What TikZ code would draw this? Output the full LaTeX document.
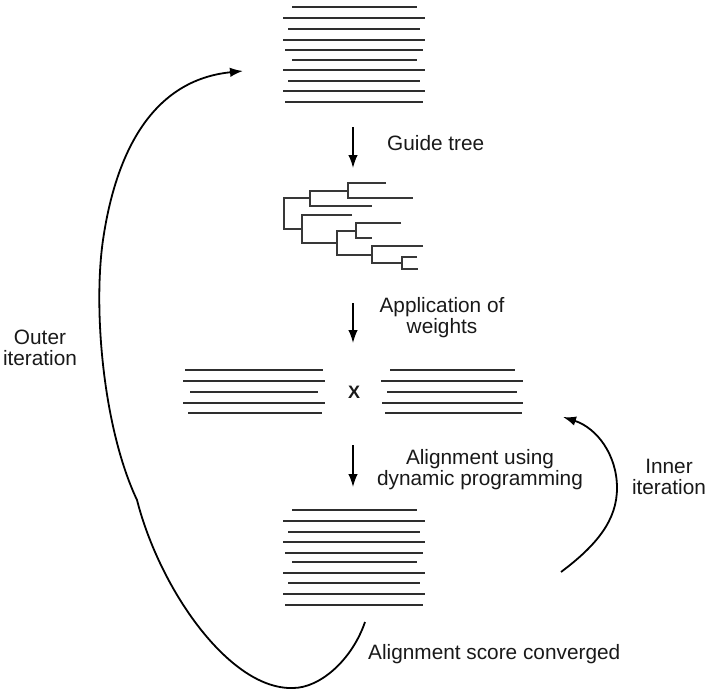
\documentclass[tikz,border=0pt]{standalone}
\usepackage{fontspec}
\setmainfont{Liberation Sans}
\usetikzlibrary{arrows.meta}
\begin{document}
\begin{tikzpicture}[x=1pt,y=-1pt,
  seq/.style={line width=2.1pt, black!82},
  treeline/.style={line width=1.7pt, black!78},
  flow/.style={line width=1.5pt, -{Latex[length=13pt,width=9.5pt]}},
  loopline/.style={line width=1.8pt, -{Latex[length=13pt,width=9.5pt]}},
  lbl/.style={font=\fontsize{20.8}{21}\selectfont, align=center, inner sep=0pt, text=black!90}]
\useasboundingbox (0,0) rectangle (706,690);

% top alignment
\foreach \y/\a/\b in {7/292/417, 18/283/425, 29/288/420, 40/283/425, 50/285/423, 60/292/417, 70/283/425, 81/288/420, 91/283/425, 102/285/423}
  \draw[seq] (\a,\y) -- (\b,\y);
% bottom alignment
\foreach \y/\a/\b in {510/292/417, 521/283/425, 532/288/420, 542/283/425, 553/285/423, 562/292/417, 573/283/425, 583/288/420, 594/283/425, 605/285/423}
  \draw[seq] (\a,\y) -- (\b,\y);
% middle left group
\foreach \y/\a/\b in {370/185/323, 381/183/325, 392/190/318, 403/183/325, 413/188/322}
  \draw[seq] (\a,\y) -- (\b,\y);
% middle right group
\foreach \y/\a/\b in {370/390/515, 381/381/523, 392/387/517, 403/382/523, 413/385/522}
  \draw[seq] (\a,\y) -- (\b,\y);

% guide tree
\draw[treeline] (310,198) -- (284,198) -- (284,229) -- (302,229);
\draw[treeline] (348,191) -- (310,191) -- (310,206) -- (372,206);
\draw[treeline] (386,183) -- (348,183) -- (348,198) -- (413,198);
\draw[treeline] (352,215) -- (302,215) -- (302,243) -- (337,243);
\draw[treeline] (356,231) -- (337,231) -- (337,255) -- (372,255);
\draw[treeline] (401,223) -- (356,223) -- (356,238) -- (372,238);
\draw[treeline] (423,246) -- (372,246) -- (372,263) -- (402,263);
\draw[treeline] (417,257) -- (402,257) -- (402,269) -- (418,269);

% vertical flow arrows
\coordinate (a1s) at (353,127); \coordinate (a1e) at (353,168);
\coordinate (a2s) at (353,303); \coordinate (a2e) at (353,343);
\coordinate (a3s) at (353,445); \coordinate (a3e) at (353,487);
\draw[flow] (a1s) -- (a1e);
\draw[flow] (a2s) -- (a2e);
\draw[flow] (a3s) -- (a3e);

% labels
\node[lbl, anchor=west] (guide) at (387,143) {Guide tree};
\node[lbl] (weights) at (442,318) {Application of\\weights};
\node[lbl] (dp) at (480,470) {Alignment using\\dynamic programming};
\node[lbl] (inner) at (669,477) {Inner\\iteration};
\node[lbl] (outer) at (40,348) {Outer\\iteration};
\node[lbl, anchor=west] (conv) at (368,654) {Alignment score converged};
\node[inner sep=0pt, font=\fontsize{18}{18}\selectfont\bfseries, text=black!90] (cross) at (354,392) {X};

% inner iteration loop
\coordinate (i0) at (561,572);
\coordinate (i1) at (617,488);
\coordinate (i2) at (563,417);
\draw[loopline] (i0) .. controls (597,545) and (617,520) .. (i1)
  .. controls (617,455) and (597,428) .. (i2);

% outer iteration loop
\coordinate (o0) at (365,622);
\coordinate (o1) at (293,688);
\coordinate (o2) at (137,500);
\coordinate (o3) at (103,240);
\coordinate (o4) at (243,71);
\draw[loopline] (o0) .. controls (352,660) and (320,688) .. (o1)
  .. controls (230,690) and (160,590) .. (o2)
  .. controls (103,428) and (93,309) .. (o3)
  .. controls (116,151) and (153,80) .. (o4);
\end{tikzpicture}
\end{document}
